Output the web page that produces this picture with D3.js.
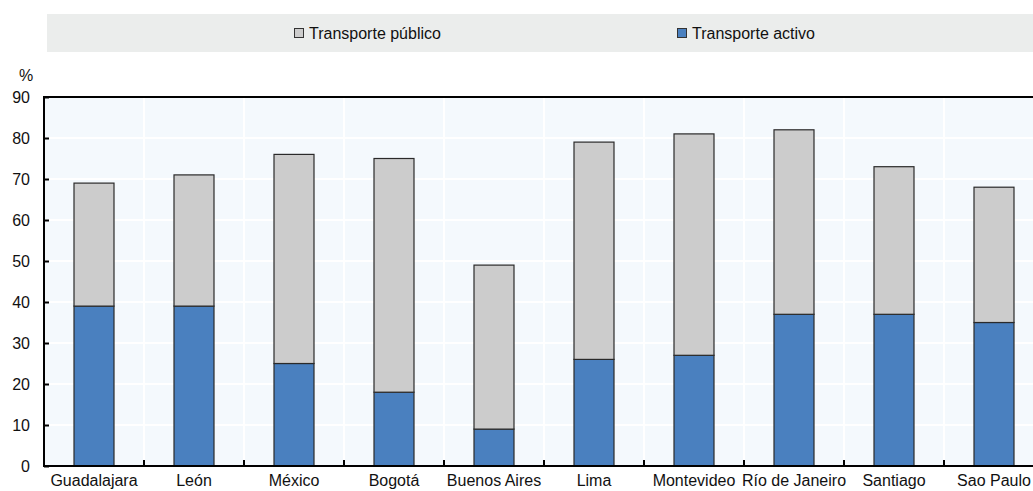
<!DOCTYPE html>
<html><head><meta charset="utf-8">
<script src="https://cdn.jsdelivr.net/npm/d3@7"></script>
<style>
html,body{margin:0;padding:0;background:#fff;overflow:hidden}
svg{display:block;font-family:"Liberation Sans",Arial,sans-serif}
</style></head><body>
<svg id="c" width="1033" height="491"></svg>
<script>
const categories = ["Guadalajara","León","México","Bogotá","Buenos Aires","Lima","Montevideo","Río de Janeiro","Santiago","Sao Paulo"];
const activo = [39,39,25,18,9,26,27,37,37,35];
const total = [69,71,76,75,49,79,81,82,73,68];
const publico = total.map((t,i)=>t-activo[i]);
const yTicks = [0,10,20,30,40,50,60,70,80,90];
const seriesNames = ["Transporte público","Transporte activo"];
const colors = {publico:"#cccccc", activo:"#4a80bf"};

const svg = d3.select("#c");
const L=44, R=1044, T=97, B=466;
const x = d3.scaleBand().domain(categories).range([L,R]).paddingInner(0.6).paddingOuter(0.3);
const xb = d3.scaleBand().domain(categories).range([L,R]);
const y = d3.scaleLinear().domain([0,90]).range([B,T]);

// legend band
svg.append("rect").attr("x",47).attr("y",14).attr("width",1033-47).attr("height",38).attr("fill","#ebedec");
const leg = [{n:seriesNames[0],c:colors.publico,x:294},{n:seriesNames[1],c:colors.activo,x:677}];
leg.forEach(d=>{
  svg.append("rect").attr("x",d.x+0.5).attr("y",28.5).attr("width",9).attr("height",9).attr("fill",d.c).attr("stroke","#333").attr("stroke-width",1);
  svg.append("text").attr("x",d.x+15).attr("y",39).attr("font-size",16).attr("fill","#111").text(d.n);
});

// plot bg
svg.append("rect").attr("x",L).attr("y",T).attr("width",R-L).attr("height",B-T).attr("fill","#f4f9fd");
// gridlines
svg.append("g").selectAll("line").data(yTicks.slice(1)).join("line")
  .attr("x1",L).attr("x2",R).attr("y1",d=>y(d)).attr("y2",d=>y(d)).attr("stroke","#fff").attr("stroke-width",2);
svg.append("g").selectAll("line").data(categories.slice(1)).join("line")
  .attr("x1",d=>xb(d)).attr("x2",d=>xb(d)).attr("y1",T).attr("y2",B).attr("stroke","#fff").attr("stroke-width",2);

// bars
const g = svg.append("g");
g.selectAll("rect.a").data(categories).join("rect").attr("class","a")
  .attr("x",d=>x(d)).attr("width",x.bandwidth())
  .attr("y",(d,i)=>y(activo[i])).attr("height",(d,i)=>y(0)-y(activo[i]))
  .attr("fill",colors.activo).attr("stroke","#2a2a2a").attr("stroke-width",1.2);
g.selectAll("rect.p").data(categories).join("rect").attr("class","p")
  .attr("x",d=>x(d)).attr("width",x.bandwidth())
  .attr("y",(d,i)=>y(total[i])).attr("height",(d,i)=>y(activo[i])-y(total[i]))
  .attr("fill",colors.publico).attr("stroke","#2a2a2a").attr("stroke-width",1.2);

// frame lines
svg.append("line").attr("x1",L).attr("x2",R).attr("y1",T).attr("y2",T).attr("stroke","#000").attr("stroke-width",2);
svg.append("line").attr("x1",L).attr("x2",R).attr("y1",B).attr("y2",B).attr("stroke","#000").attr("stroke-width",2);
svg.append("line").attr("x1",L).attr("x2",L).attr("y1",T-1).attr("y2",B+1).attr("stroke","#000").attr("stroke-width",2);

// y axis ticks and labels
const ya = d3.axisLeft(y).tickValues(yTicks).tickSize(-5).tickPadding(14);
const yg = svg.append("g").attr("transform",`translate(${L},0)`).call(ya);
yg.select(".domain").remove();
yg.selectAll(".tick line").attr("stroke","#000").attr("stroke-width",2);
yg.selectAll(".tick text").attr("font-size",16).attr("fill","#111").attr("font-family","Liberation Sans, Arial, sans-serif");

// x ticks at band boundaries
svg.append("g").selectAll("line").data(categories.slice(1)).join("line")
  .attr("x1",d=>xb(d)).attr("x2",d=>xb(d)).attr("y1",B).attr("y2",B-6).attr("stroke","#000").attr("stroke-width",2);
// x labels
const xa = d3.axisBottom(xb).tickSize(0).tickPadding(9);
const xg = svg.append("g").attr("transform",`translate(0,${B})`).call(xa);
xg.select(".domain").remove();
xg.selectAll(".tick text").attr("font-size",16).attr("fill","#111").attr("font-family","Liberation Sans, Arial, sans-serif");

svg.append("text").attr("x",26).attr("y",81).attr("text-anchor","middle").attr("font-size",16).attr("fill","#111").text("%");
</script></body></html>
